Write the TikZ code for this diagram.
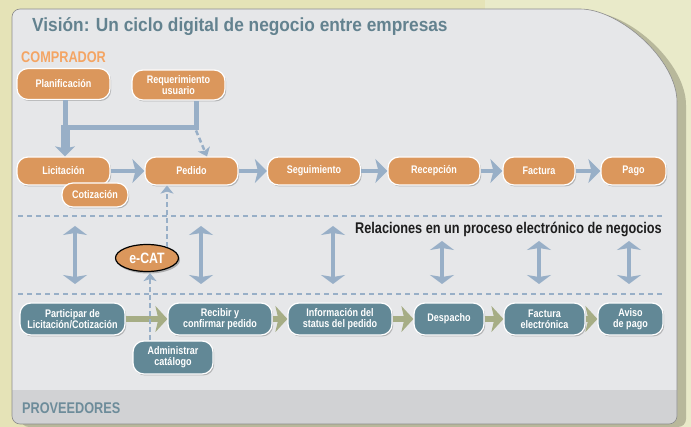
\documentclass[tikz,border=0pt]{standalone}
\usepackage{fontspec}
\setmainfont{Liberation Sans}[FakeStretch=0.82]
\newfontfamily\titlefont{Liberation Sans}[FakeStretch=0.91]
\usetikzlibrary{arrows.meta,shadows,shapes.geometric}
\definecolor{bgbeige}{HTML}{E5E3B7}
\definecolor{bglight}{HTML}{E9EAC9}
\definecolor{panelc}{HTML}{E6E7E9}
\definecolor{bandc}{HTML}{D1D2D4}
\definecolor{shadowc}{HTML}{B8B89B}
\definecolor{orangec}{HTML}{DB975C}
\definecolor{tealc}{HTML}{628896}
\definecolor{bluec}{HTML}{98AFC7}
\definecolor{greenc}{HTML}{A6AD85}
\definecolor{titlec}{HTML}{63828F}
\definecolor{compc}{HTML}{F4A564}
\definecolor{provc}{HTML}{6D8C9A}
\definecolor{textdark}{HTML}{1E1E1E}
\newcommand\mypanelpath{(12,424) -- (12,9) -- (572,9) .. controls (620,9) and (677,60) .. (677,110) -- (677,424) -- cycle}
\begin{document}
\begin{tikzpicture}[x=1pt,y=-1pt,
  box/.style={rectangle, rounded corners=11pt, draw=white, line width=1.2pt, text=white,
    font=\bfseries\fontsize{11}{10.8}\selectfont, align=center, inner sep=0pt,
    drop shadow={shadow xshift=1.2pt, shadow yshift=-1.5pt, fill=black, opacity=0.22}},
  obox/.style={box, fill=orangec},
  tbox/.style={box, fill=tealc},
  bluearrow/.style={draw=bluec, line width=4.5pt, -{Stealth[length=12pt,width=24pt,inset=3pt]}},
  greenarrow/.style={draw=greenc, line width=5.5pt, -{Stealth[length=12pt,width=26pt,inset=3pt]}},
  dasharrow/.style={draw=bluec, line width=2.5pt, dash pattern=on 5pt off 3pt, -{Stealth[length=8pt,width=13pt,inset=2pt]}},
  dbl/.style={draw=bluec, line width=4.5pt, {Stealth[length=9pt,width=24pt,inset=2pt]}-{Stealth[length=9pt,width=24pt,inset=2pt]}},
  sep/.style={draw=bluec, line width=1.5pt, dash pattern=on 5pt off 4pt},
  heading/.style={anchor=west, inner sep=0pt, font=\bfseries\fontsize{15.5}{15.5}\selectfont}
]
\useasboundingbox (0,0) rectangle (691,427);
\fill[bgbeige] (0,0) rectangle (691,427);
\fill[bglight] (485,0) rectangle (691,427);
% panel
\fill[shadowc, shift={(9,3)}] [rounded corners=8pt] \mypanelpath;
\fill[panelc] [rounded corners=8pt] \mypanelpath;
\begin{scope}
  \clip[rounded corners=8pt] \mypanelpath;
  \fill[bandc] (0,390) rectangle (691,427);
\end{scope}
\draw[black!45, line width=0.6pt] [rounded corners=8pt] \mypanelpath;

% texts
\node[anchor=west, inner sep=0pt, text=titlec, font=\titlefont\bfseries\fontsize{19}{21}\selectfont] (title) at (32,27) {Visión: Un ciclo digital de negocio entre empresas};
\node[heading, text=compc] (comp) at (21,57) {COMPRADOR};
\node[heading, text=provc] (prov) at (22,408) {PROVEEDORES};
\node[heading, text=textdark] (rel) at (355,229) {Relaciones en un proceso electrónico de negocios};

% separators
\coordinate (s1a) at (18,216); \coordinate (s1b) at (665,216);
\coordinate (s2a) at (18,294); \coordinate (s2b) at (665,294);
\draw[sep] (s1a) -- (s1b);
\draw[sep] (s2a) -- (s2b);

% buyer nodes
\node[obox, minimum width=93pt, minimum height=31pt] (plan) at (63.5,84) {Planificación};
\node[obox, minimum width=93pt, minimum height=30pt] (req) at (178.5,85) {Requerimiento\\usuario};
\node[obox, minimum width=93pt, minimum height=28pt] (lic) at (63.5,171) {Licitación};
\node[obox, minimum width=66pt, minimum height=24pt] (cot) at (95,195) {Cotización};
\node[obox, minimum width=93pt, minimum height=28pt] (ped) at (191.5,171) {Pedido};
\node[obox, minimum width=93pt, minimum height=28pt] (seg) at (314,171) {Seguimiento};
\node[obox, minimum width=92pt, minimum height=28pt] (rec) at (434,171) {Recepción};
\node[obox, minimum width=72pt, minimum height=28pt] (fac) at (539,171) {Factura};
\node[obox, minimum width=65pt, minimum height=28pt] (pago) at (633.5,171) {Pago};

% supplier nodes
\node[tbox, minimum width=105pt, minimum height=32pt] (part) at (72.5,319) {Participar de\\Licitación/Cotización};
\node[tbox, minimum width=104pt, minimum height=32pt] (recib) at (220,319) {Recibir y\\confirmar pedido};
\node[tbox, minimum width=104pt, minimum height=32pt] (info) at (340,319) {Información del\\status del pedido};
\node[tbox, minimum width=70pt, minimum height=32pt] (desp) at (449,319) {Despacho};
\node[tbox, minimum width=81pt, minimum height=32pt] (facel) at (544.5,319) {Factura\\electrónica};
\node[tbox, minimum width=65pt, minimum height=32pt] (aviso) at (630.5,319) {Aviso\\de pago};
\node[tbox, minimum width=80pt, minimum height=33pt] (adm) at (173,357.5) {Administrar\\catálogo};

% e-CAT
\node[ellipse, fill=orangec, draw=black, line width=1.2pt, text=white, inner sep=0pt,
  minimum width=63pt, minimum height=27pt, font=\bfseries\fontsize{15}{15}\selectfont,
  drop shadow={shadow xshift=1.5pt, shadow yshift=-2pt, fill=black, opacity=0.25}] (ecat) at (147,258) {e-CAT};

% planning connectors
\coordinate (j1) at (65,128);
\coordinate (j2) at (196,128);
\draw[bluec, line width=5pt] (j1 |- plan.south) -- (j1) -- (j2) -- (j2 |- req.south);
\draw[bluec, line width=9pt, -{Stealth[length=10pt,width=20pt,inset=2pt]}] ([yshift=2.5pt]j1) -- (j1 |- lic.north);
\draw[dasharrow] ([yshift=-2.5pt]j2) -- ([xshift=15.5pt]ped.north);

% buyer flow
\draw[bluearrow] (lic.east) -- (ped.west);
\draw[bluearrow] (ped) -- (seg);
\draw[bluearrow] (seg) -- (rec);
\draw[bluearrow] (rec) -- (fac);
\draw[bluearrow] (fac) -- (pago);

% supplier flow
\draw[greenarrow] (part) -- (recib);
\draw[greenarrow] (recib) -- (info);
\draw[greenarrow] (info) -- (desp);
\draw[greenarrow] (desp) -- (facel);
\draw[greenarrow] (facel) -- (aviso);

% e-CAT links
\draw[dasharrow] ([xshift=20pt,yshift=-3pt]ecat.north) -- ([xshift=-24.5pt]ped.south);
\draw[dasharrow] ([xshift=-23pt]adm.north) -- ([xshift=3pt,yshift=-1pt]ecat.south);

% relation arrows
\foreach \n/\x/\ya in {r1/75/226, r2/201/226, r3/333/226, r4/442/241, r5/539/241, r6/629/241}{
  \coordinate (\n a) at (\x,\ya);
  \coordinate (\n b) at (\x,284);
  \draw[dbl] (\n a) -- (\n b);
}
\end{tikzpicture}
\end{document}
